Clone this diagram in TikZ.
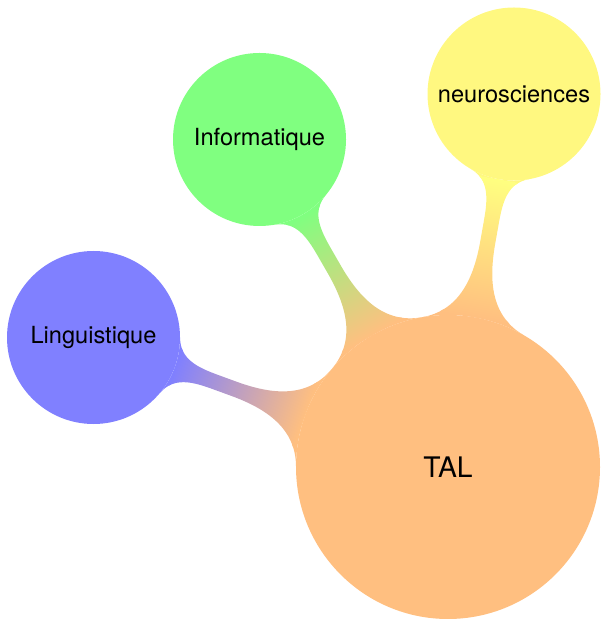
\documentclass[tikz,border=0pt]{standalone}
\usepackage{fontspec}
\setmainfont{TeX Gyre Heros}
\usetikzlibrary{mindmap}
\begin{document}
\begin{tikzpicture}[x=0.4237pt,y=-0.4237pt,
  cpt/.style={circle,draw=none,outer sep=0pt,inner sep=0pt,align=center,text=black},
  rootcpt/.style={cpt,fill=orange!50,minimum size=128.8pt,font=\large},
  childcpt/.style={cpt,minimum size=73.3pt,font=\normalsize}]
\useasboundingbox (0,0) rectangle (600,619);
\node[rootcpt] (tal) at (448,467) {TAL};
\node[childcpt,fill=blue!50] (ling) at (93.5,337.5) {Linguistique};
\node[childcpt,fill=green!50] (info) at (259.5,139.5) {Informatique};
\node[childcpt,fill=yellow!50] (neuro) at (514,94) {neurosciences};
\path (tal) to[circle connection bar switch color=from (orange!50) to (blue!50)] (ling);
\path (tal) to[circle connection bar switch color=from (orange!50) to (green!50)] (info);
\path (tal) to[circle connection bar switch color=from (orange!50) to (yellow!50)] (neuro);
\end{tikzpicture}
\end{document}
